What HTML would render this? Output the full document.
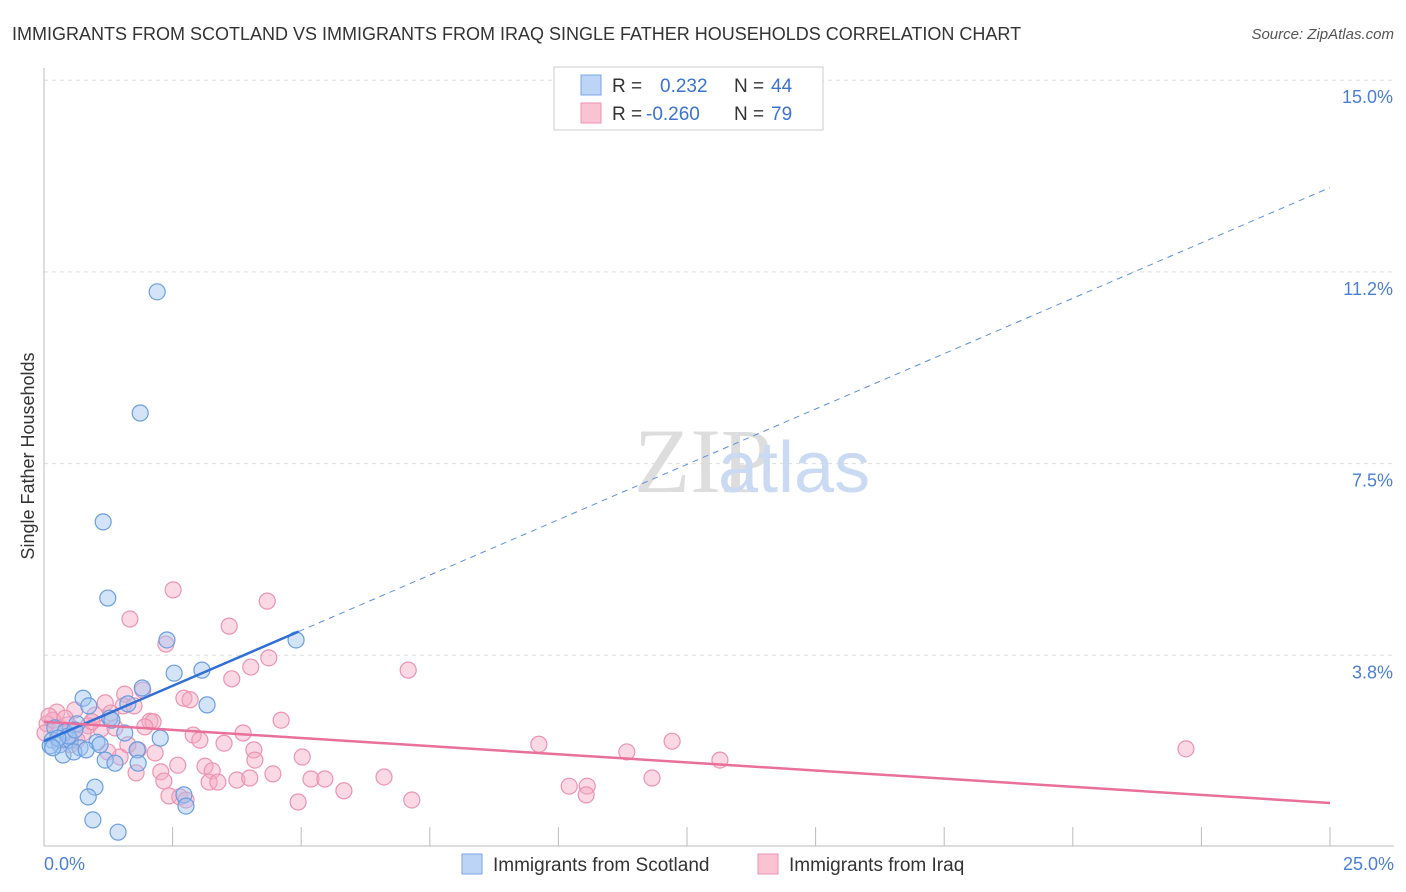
<!DOCTYPE html>
<html><head><meta charset="utf-8"><style>
body{margin:0;background:#fff;font-family:"Liberation Sans",sans-serif;}
svg{display:block}
</style></head><body>
<svg width="1406" height="892">
<text x="12" y="40" font-size="18" fill="#333">IMMIGRANTS FROM SCOTLAND VS IMMIGRANTS FROM IRAQ SINGLE FATHER HOUSEHOLDS CORRELATION CHART</text>
<text x="1394" y="39" font-size="15" fill="#555" font-style="italic" text-anchor="end">Source: ZipAtlas.com</text>
<g id="grid"></g>
<text x="634" y="492" font-size="92" fill="#ddd" font-family="Liberation Serif">ZIP</text>
<text x="718" y="492" font-size="72" fill="#c9daf2">atlas</text>
<g id="marks"></g>
<text transform="translate(34,456) rotate(-90)" font-size="18" fill="#333" text-anchor="middle">Single Father Households</text>
<text x="44" y="870" font-size="18" fill="#4a7fd6">0.0%</text>
<text x="1394" y="870" font-size="18" fill="#4a7fd6" text-anchor="end">25.0%</text>
<g>
<rect x="554" y="67" width="269" height="63" fill="#fff" stroke="#ccc"/>
<rect x="581" y="75" width="20" height="20" fill="#bcd4f5" stroke="#7aa5e5"/>
<rect x="581" y="103" width="20" height="20" fill="#fac3d3" stroke="#ec93b1"/>
<text x="612" y="92" font-size="19" fill="#333">R =</text><text x="660" y="92" font-size="19" fill="#3a73d0">0.232</text>
<text x="734" y="92" font-size="19" fill="#333">N =</text><text x="771" y="92" font-size="19" fill="#3a73d0">44</text>
<text x="612" y="120" font-size="19" fill="#333">R =</text><text x="646" y="120" font-size="19" fill="#3a73d0">-0.260</text>
<text x="734" y="120" font-size="19" fill="#333">N =</text><text x="771" y="120" font-size="19" fill="#3a73d0">79</text>
</g>
<g>
<rect x="462" y="854" width="20" height="20" fill="#bcd4f5" stroke="#7aa5e5"/>
<text x="493" y="871" font-size="19" fill="#333">Immigrants from Scotland</text>
<rect x="758" y="854" width="20" height="20" fill="#fac3d3" stroke="#ec93b1"/>
<text x="789" y="871" font-size="19" fill="#333">Immigrants from Iraq</text>
</g>
</svg>
<script>
const yTicks=[3.75,7.5,11.25,15];
const yTickLabels=["3.8%","7.5%","11.2%","15.0%"];
const xTicks=[2.5,5,7.5,10,12.5,15,17.5,20,22.5,25];
const blueX=[2.20,1.87,1.15,1.24,2.39,4.90,2.53,3.07,1.91,3.17,0.76,1.63,0.87,1.28,0.64,0.21,0.41,1.03,0.16,0.31,0.51,0.70,0.12,0.37,0.58,0.82,1.57,1.81,2.26,1.19,1.38,1.83,0.99,0.86,2.72,2.76,0.95,1.44,0.47,0.27,0.17,0.60,1.09,1.32];
const blueY=[10.86,8.49,6.36,4.87,4.05,4.05,3.40,3.46,3.11,2.78,2.91,2.80,2.76,2.52,2.41,2.33,2.25,2.05,2.09,2.00,2.09,1.94,1.98,1.80,1.86,1.90,2.23,1.90,2.13,1.70,1.64,1.64,1.17,0.98,1.02,0.80,0.53,0.29,2.17,2.13,1.94,2.29,2.00,2.48];
const pinkX=[2.51,4.34,1.67,3.60,2.37,7.08,4.37,4.02,3.65,1.57,1.92,2.72,2.84,1.19,1.54,1.75,0.25,0.60,0.99,1.30,2.06,2.12,4.61,3.87,2.90,3.03,3.50,0.17,0.06,0.31,0.47,0.86,1.11,0.76,1.38,9.62,11.33,12.21,22.20,13.14,4.08,5.02,2.16,1.48,1.83,2.60,3.13,4.10,2.27,1.79,4.45,6.61,11.82,10.21,10.56,5.19,5.46,3.27,3.75,4.00,3.21,3.38,2.33,5.83,10.54,2.43,2.64,2.76,4.94,7.15,0.10,0.41,0.64,0.93,1.63,1.96,1.24,0.02,0.51];
const pinkY=[5.03,4.81,4.46,4.32,3.97,3.46,3.70,3.52,3.29,2.99,3.07,2.91,2.88,2.82,2.76,2.76,2.64,2.68,2.58,2.62,2.46,2.45,2.48,2.23,2.19,2.09,2.03,2.48,2.41,2.33,2.39,2.37,2.31,2.23,2.33,2.01,1.86,2.07,1.92,1.70,1.90,1.76,1.84,1.76,1.90,1.60,1.58,1.70,1.47,1.45,1.43,1.37,1.35,1.19,1.19,1.33,1.33,1.49,1.31,1.35,1.27,1.27,1.29,1.10,1.02,1.00,0.98,0.92,0.88,0.92,2.56,2.52,2.09,2.45,2.00,2.35,1.86,2.23,2.00];
const blueTrend=[2.07,12.9];
const pinkTrend=[2.45,0.86];
const blueSolidEnd=4.95;
const NS="http://www.w3.org/2000/svg";
const X=v=>44+v*51.44, Y=v=>847-v*51.12;
function mk(p,t,a){const e=document.createElementNS(NS,t);for(const k in a)e.setAttribute(k,a[k]);p.appendChild(e);return e;}
const g=document.getElementById('grid'), m=document.getElementById('marks');
yTicks.forEach((t,i)=>{
 const l=mk(g,'line',{x1:44,x2:1394,y1:Y(t),y2:Y(t),stroke:'#ddd','stroke-dasharray':'4,4'});
 
 
 const tx=mk(g,'text',{x:1393,y:Y(t)+23,'font-size':18,fill:'#4a7fd6','text-anchor':'end'});
 tx.textContent=yTickLabels[i];
 
 
});
const ax=mk(g,'line',{x1:44,x2:44,y1:68,y2:846,stroke:'#bbb'});


const bx=mk(g,'line',{x1:44,x2:1394,y1:846,y2:846,stroke:'#bbb'});


xTicks.forEach(t=>{
 const l=mk(g,'line',{x1:X(t),x2:X(t),y1:827,y2:846,stroke:'#bbb'});
 
 
});
pinkX.forEach((v,i)=>{
 const c=mk(m,'circle',{cx:X(v),cy:Y(pinkY[i]),r:8,fill:'rgba(245,170,195,0.45)',stroke:'#ec93b1','stroke-width':1.2});
 
 
});
blueX.forEach((v,i)=>{
 const c=mk(m,'circle',{cx:X(v),cy:Y(blueY[i]),r:8,fill:'rgba(160,195,240,0.45)',stroke:'#6a9ee0','stroke-width':1.2});
 
 
});
const by=v=>blueTrend[0]+(blueTrend[1]-blueTrend[0])*v/25;
const b1=mk(m,'line',{x1:X(0),y1:Y(by(0)),x2:X(blueSolidEnd),y2:Y(by(blueSolidEnd)),stroke:'#2f6fd6','stroke-width':2.5});


const b2=mk(m,'line',{x1:X(blueSolidEnd),y1:Y(by(blueSolidEnd)),x2:X(25),y2:Y(by(25)),stroke:'#5a8fe0','stroke-width':1,'stroke-dasharray':'6,5'});


const p1=mk(m,'line',{x1:X(0),y1:Y(pinkTrend[0]),x2:X(25),y2:Y(pinkTrend[1]),stroke:'#e8709a','stroke-width':2.5});


</script>
</body></html>
